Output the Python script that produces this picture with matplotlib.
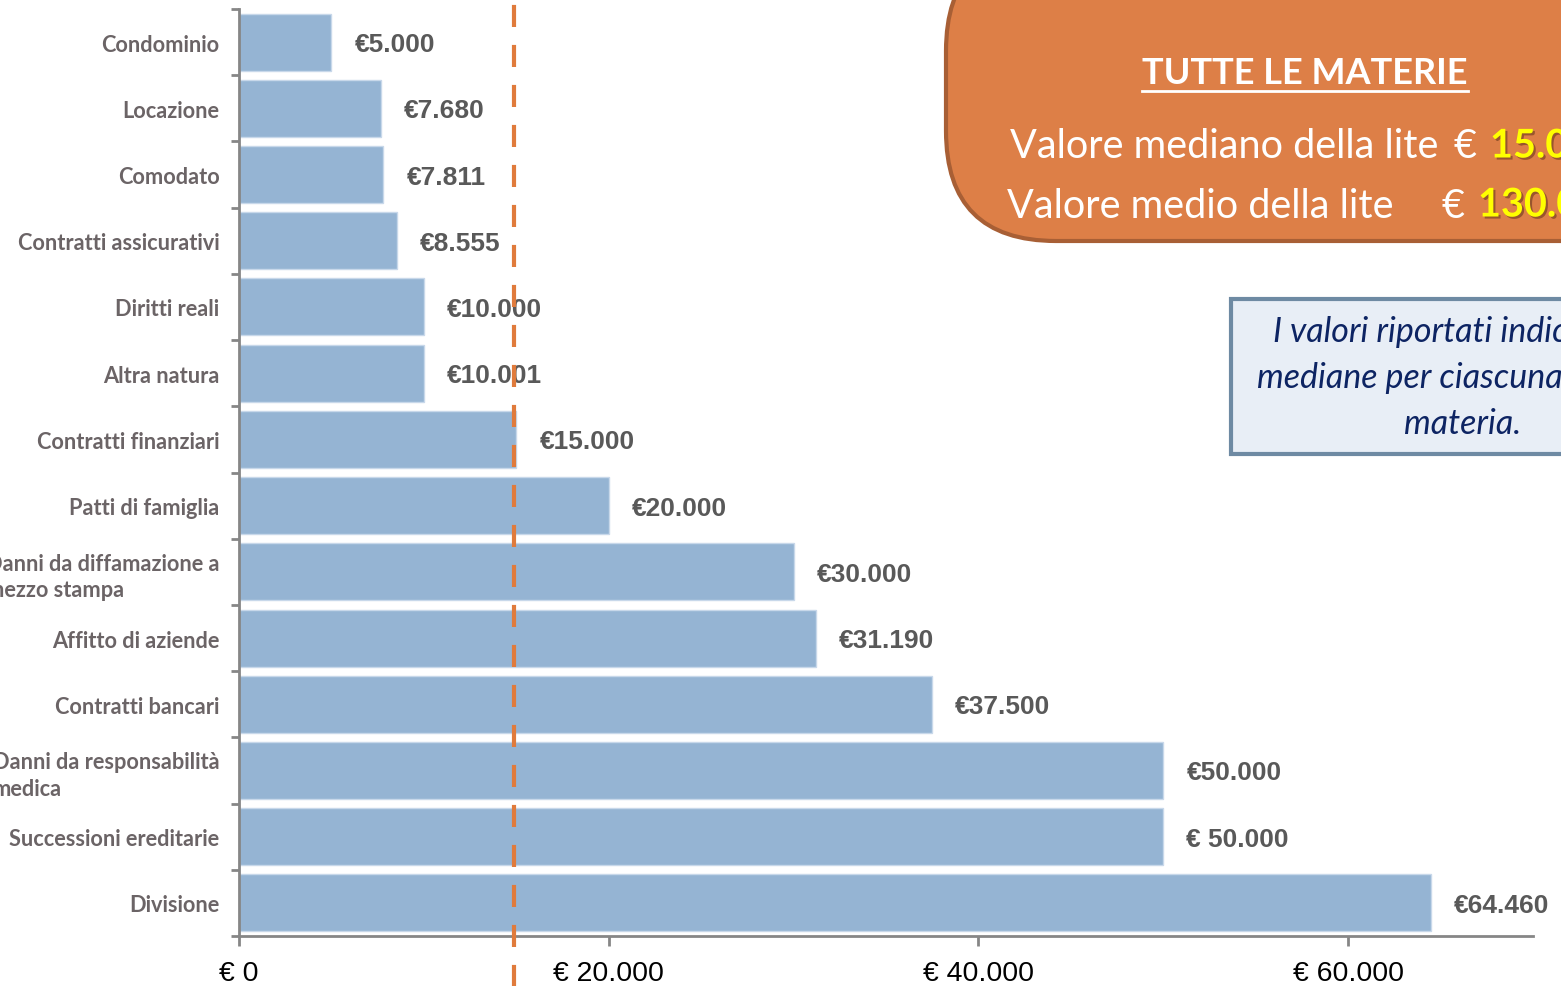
import matplotlib.pyplot as plt
import matplotlib.patheffects as pe
from matplotlib.patches import FancyBboxPatch

# Data (top to bottom as in the chart)
categories = ['Condominio', 'Locazione', 'Comodato', 'Contratti assicurativi',
              'Diritti reali', 'Altra natura', 'Contratti finanziari',
              'Patti di famiglia', 'Danni da diffamazione a\nmezzo stampa',
              'Affitto di aziende', 'Contratti bancari',
              'Danni da responsabilità\nmedica', 'Successioni ereditarie',
              'Divisione']
values = [5000, 7680, 7811, 8555, 10000, 10001, 15000, 20000, 30000,
          31190, 37500, 50000, 50000, 64460]
value_labels = ['€5.000', '€7.680', '€7.811', '€8.555', '€10.000', '€10.001',
                '€15.000', '€20.000', '€30.000', '€31.190', '€37.500',
                '€50.000', '€ 50.000', '€64.460']
x_ticks = [0, 20000, 40000, 60000]
x_tick_labels = ['€ 0', '€ 20.000', '€ 40.000', '€ 60.000']
median_all = 14850

fig = plt.figure(figsize=(15.61, 9.87), dpi=100)
ax = fig.add_axes([239 / 1561, 50 / 987, (1533 - 239) / 1561, 927 / 987])

n = len(categories)
ypos = list(range(n))
ax.barh(ypos, values, height=0.86, color='#95b4d3', edgecolor='#c8d8ea',
        linewidth=1, zorder=2)
ax.set_ylim(n - 0.5, -0.5)
ax.set_xlim(0, 70000)

# value labels
for y, v, lab in zip(ypos, values, value_labels):
    ax.text(v + 1250, y + 0.03, lab, va='center', ha='left', fontsize=19,
            fontweight='bold', color='#595959', family='Liberation Sans',
            zorder=3)

# median dashed line, running past the axes
ax.axvline(median_all, ymin=-0.055, ymax=1.012, clip_on=False,
           color='#e07b3c', lw=3, linestyle=(0, (5.3, 4.3)), zorder=4)

# axes styling
for s in ['top', 'right']:
    ax.spines[s].set_visible(False)
for s in ['left', 'bottom']:
    ax.spines[s].set_color('#868686')
    ax.spines[s].set_linewidth(2)

ax.set_yticks([i - 0.5 for i in range(n + 1)])
ax.set_yticklabels([])
ax.set_yticks(ypos, minor=True)
ax.set_yticklabels(categories, minor=True)
ax.tick_params(axis='y', which='major', length=6, width=2, color='#868686')
ax.tick_params(axis='y', which='minor', length=0, pad=14)
for t in ax.get_yticklabels(minor=True):
    t.set_fontfamily('Lato')
    t.set_fontweight('bold')
    t.set_fontsize(15.7)
    t.set_color('#6b6466')
    t.set_multialignment('left')
    t.set_linespacing(1.3)

ax.set_xticks(x_ticks)
ax.set_xticklabels(x_tick_labels, fontsize=20.5, family='Liberation Sans',
                   color='black')
ax.tick_params(axis='x', length=7, width=2, color='#868686', pad=10)

# orange summary box
box1 = FancyBboxPatch((946, 745), 800, 300, transform=None,
                      boxstyle='round,pad=0,rounding_size=110',
                      facecolor='#dd7f47', edgecolor='#a85f35', lw=3,
                      zorder=5)
fig.patches.append(box1)
fig.text(1305 / 1561, 1 - 73 / 987, 'TUTTE LE MATERIE', ha='center',
         va='center', fontsize=26, fontweight='bold', color='white',
         family='Lato', zorder=6)
fig.add_artist(plt.Line2D([1142 / 1561, 1468 / 1561],
                          [1 - 92 / 987, 1 - 92 / 987], color='white', lw=2,
                          zorder=6))
shadow = [pe.withSimplePatchShadow(offset=(1.5, -1.5), shadow_rgbFace='#6a3a1c',
                                   alpha=0.6)]
fig.text(1010 / 1561, 1 - 147 / 987, 'Valore mediano della lite', ha='left',
         va='center', fontsize=28.5, color='white', family='Lato', zorder=6)
fig.text(1453 / 1561, 1 - 147 / 987, '€', ha='left', va='center',
         fontsize=28.5, color='white', family='Lato', zorder=6)
fig.text(1490 / 1561, 1 - 147 / 987, '15.000', ha='left', va='center',
         fontsize=28.5, fontweight='bold', color='#ffff00', family='Lato',
         zorder=6, path_effects=shadow)
fig.text(1007 / 1561, 1 - 206 / 987, 'Valore medio della lite', ha='left',
         va='center', fontsize=28.5, color='white', family='Lato', zorder=6)
fig.text(1442 / 1561, 1 - 206 / 987, '€', ha='left', va='center',
         fontsize=28.5, color='white', family='Lato', zorder=6)
fig.text(1478 / 1561, 1 - 206 / 987, '130.000', ha='left', va='center',
         fontsize=28.5, fontweight='bold', color='#ffff00', family='Lato',
         zorder=6, path_effects=shadow)

# blue note box
box2 = FancyBboxPatch((1231, 987 - 455), 500, 155, transform=None,
                      boxstyle='square,pad=0', facecolor='#e8eef6',
                      edgecolor='#6e8aa3', lw=3, zorder=5)
fig.patches.append(box2)
fig.text(1463 / 1561, 1 - 378 / 987,
         'I valori riportati indicano le\nmediane per ciascuna singola\nmateria.',
         ha='center', va='center', fontsize=24.5, style='italic',
         color='#0d2463', family='Lato', linespacing=1.55, zorder=6)

fig.savefig('out.png', dpi=100)
